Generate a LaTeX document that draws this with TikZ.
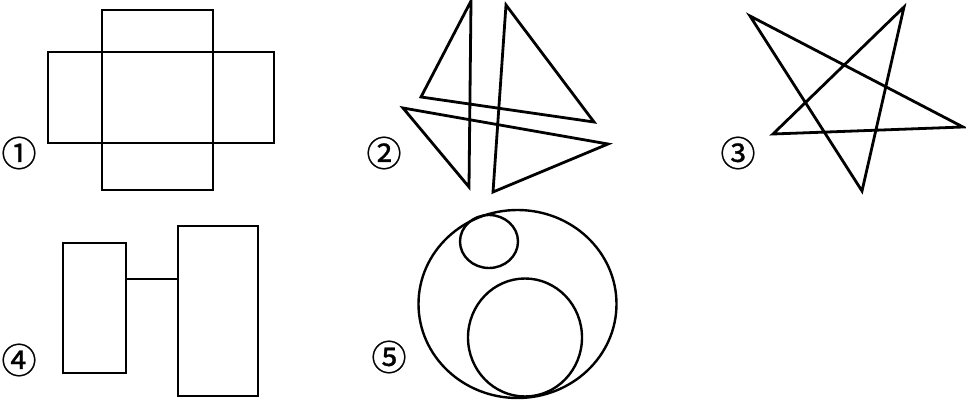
\documentclass[tikz,border=0pt]{standalone}
\usepackage{fontspec}
\newfontfamily\cjk[FakeBold=0.8]{Noto Sans CJK SC}
\begin{document}
\begin{tikzpicture}[x=1pt,y=-1pt,
  shape line/.style={draw=black,line width=2.8pt,line join=miter},
  circ line/.style={draw=black,line width=2.4pt},
  lbl/.style={font=\cjk\fontsize{35}{35}\selectfont,inner sep=0pt}]
\useasboundingbox (0,0) rectangle (966,401);
% figure 1
\draw[shape line] (102,10) rectangle (213,190);
\draw[shape line] (48,52) rectangle (274,143);
\node[lbl] (l1) at (19,153) {①};
% figure 2
\draw[shape line] (471,1) -- (421,97) -- (594,122) -- (506,5) -- (493,192)
  -- (608,144) -- (403,108) -- (469,187) -- cycle;
\node[lbl] (l2) at (384,153) {②};
% figure 3
\draw[shape line] (750,16) -- (963,127) -- (773,134) -- (904,7) -- (862,191) -- cycle;
\node[lbl] (l3) at (738,153) {③};
% figure 4
\draw[shape line] (63,243) rectangle (126,373);
\draw[shape line] (178,226) rectangle (258,396);
\draw[shape line] (126,279) -- (178,279);
\node[lbl] (l4) at (19,360) {④};
% figure 5
\draw[circ line] (517.5,304) ellipse [x radius=99,y radius=94];
\draw[circ line] (489,241.5) ellipse [x radius=29,y radius=26.5];
\draw[circ line] (525,337.5) ellipse [x radius=57,y radius=59];
\node[lbl] (l5) at (389,357) {⑤};
\end{tikzpicture}
\end{document}
